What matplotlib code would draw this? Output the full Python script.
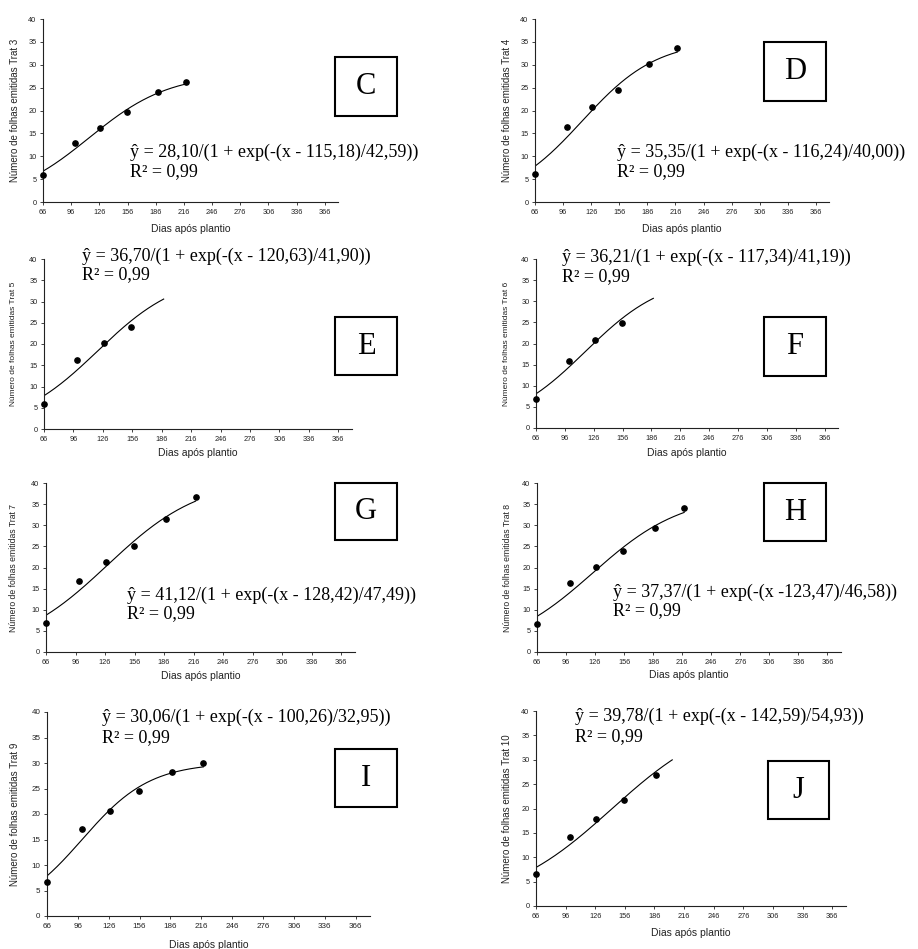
import numpy as np
import matplotlib
matplotlib.use('Agg')
import matplotlib.pyplot as plt
from matplotlib.patches import Rectangle

plt.rcParams['font.family'] = ['Liberation Sans', 'DejaVu Sans']

# dados
dias = [66, 100, 127, 155, 188, 218]
trat3 = [5.9, 13.0, 16.2, 19.6, 24.0, 26.2]
trat4 = [6.2, 16.3, 20.7, 24.4, 30.2, 33.6]
trat5 = [6.0, 16.3, 20.3, 24.1]
trat6 = [6.9, 15.8, 20.9, 24.8]
trat7 = [6.9, 16.7, 21.3, 25.1, 31.5, 36.7]
trat8 = [6.6, 16.3, 20.1, 23.8, 29.4, 34.0]
trat9 = [6.6, 17.0, 20.6, 24.5, 28.2, 30.0]
trat10 = [6.5, 14.2, 17.9, 21.8, 26.9]

# parâmetros do modelo logístico: a, x0, b, fim da curva
fit_a = [28.10, 35.35, 36.70, 36.21, 41.12, 37.37, 30.06, 39.78]
fit_x0 = [115.18, 116.24, 120.63, 117.34, 128.42, 123.47, 100.26, 142.59]
fit_b = [42.59, 40.00, 41.90, 41.19, 47.49, 46.58, 32.95, 54.93]
fit_end = [218, 218, 188, 188, 218, 218, 218, 204]

equacoes = [
    'ŷ = 28,10/(1 + exp(-(x - 115,18)/42,59))',
    'ŷ = 35,35/(1 + exp(-(x - 116,24)/40,00))',
    'ŷ = 36,70/(1 + exp(-(x - 120,63)/41,90))',
    'ŷ = 36,21/(1 + exp(-(x - 117,34)/41,19))',
    'ŷ = 41,12/(1 + exp(-(x - 128,42)/47,49))',
    'ŷ = 37,37/(1 + exp(-(x -123,47)/46,58))',
    'ŷ = 30,06/(1 + exp(-(x - 100,26)/32,95))',
    'ŷ = 39,78/(1 + exp(-(x - 142,59)/54,93))',
]
letras = ['C', 'D', 'E', 'F', 'G', 'H', 'I', 'J']
tratamentos = [3, 4, 5, 6, 7, 8, 9, 10]
series = [trat3, trat4, trat5, trat6, trat7, trat8, trat9, trat10]

# layout em pixels
W, H = 918, 949
eixos = [(43, 19, 338, 202), (535, 19, 829, 202),
         (44, 259, 352, 429), (536, 259, 838, 428),
         (46, 483, 355, 652), (537, 483, 841, 652),
         (47, 712, 370, 916), (536, 711, 846, 906)]
caixas = [(335, 57, 397, 116), (764, 42, 826, 101),
          (335, 317, 397, 375), (764, 317, 826, 376),
          (335, 483, 397, 540), (764, 483, 826, 541),
          (335, 749, 397, 807), (768, 761, 829, 819)]
eq_pos = [(130, 152, 172), (617, 152, 172),
          (82, 256, 275), (562, 257, 277),
          (127, 595, 614), (613, 592, 611),
          (102, 717, 738), (575, 716, 737)]
ylab_x = [15, 507, 14, 507, 14, 507, 15, 507]
ylab_fs = [7, 7, 6, 6, 6.2, 6.2, 7, 7]
xlab_y = [229, 229, 453, 453, 676, 675, 945, 933]


def fx(x):
    return x / W


def fy(y):
    return 1 - y / H


fig = plt.figure(figsize=(W / 100, H / 100), dpi=100)

for i in range(8):
    l, t, r, b = eixos[i]
    ax = fig.add_axes([fx(l), fy(b), (r - l) / W, (b - t) / H])
    vals = series[i]
    ax.plot(dias[:len(vals)], vals, 'o', color='black', ms=3.8,
            clip_on=False, zorder=3)
    xs = np.linspace(66, fit_end[i], 200)
    ys = fit_a[i] / (1 + np.exp(-(xs - fit_x0[i]) / fit_b[i]))
    ax.plot(xs, ys, color='black', lw=0.8)

    ax.set_xlim(66, 380)
    ax.set_ylim(0, 40)
    ax.set_xticks(range(66, 367, 30))
    ax.set_yticks(range(0, 41, 5))
    for s in ['top', 'right']:
        ax.spines[s].set_visible(False)
    for s in ['left', 'bottom']:
        ax.spines[s].set_linewidth(0.8)
        ax.spines[s].set_color('#222222')
    fs = 5.8 if i == 6 else 5.3
    ax.tick_params(length=2.2, width=0.6, pad=2.5, labelsize=fs,
                   colors='#222222')

    ax.set_ylabel('Número de folhas emitidas Trat %d' % tratamentos[i],
                  fontsize=ylab_fs[i], color='#222222')
    ax.yaxis.set_label_coords((ylab_x[i] - l) / (r - l), 0.5)
    ax.yaxis.label.set_va('center')
    ax.set_xlabel('Dias após plantio', fontsize=7.5, color='#222222')
    ax.xaxis.set_label_coords(0.5, -(xlab_y[i] - b) / (b - t))
    ax.xaxis.label.set_va('center')

    # caixa com letra
    cl, ct, cr, cb = caixas[i]
    fig.add_artist(Rectangle((fx(cl), fy(cb)), (cr - cl) / W, (cb - ct) / H,
                             transform=fig.transFigure, fill=False,
                             lw=1.5, ec='black'))
    fig.text(fx((cl + cr) / 2), fy((ct + cb) / 2), letras[i], fontsize=22,
             family='Liberation Serif', ha='center', va='center')

    ex, ey1, ey2 = eq_pos[i]
    fig.text(fx(ex), fy(ey1), equacoes[i], fontsize=13,
             family='Liberation Serif', va='center')
    fig.text(fx(ex), fy(ey2), 'R² = 0,99', fontsize=13,
             family='Liberation Serif', va='center')

fig.savefig('out.png', dpi=100)
